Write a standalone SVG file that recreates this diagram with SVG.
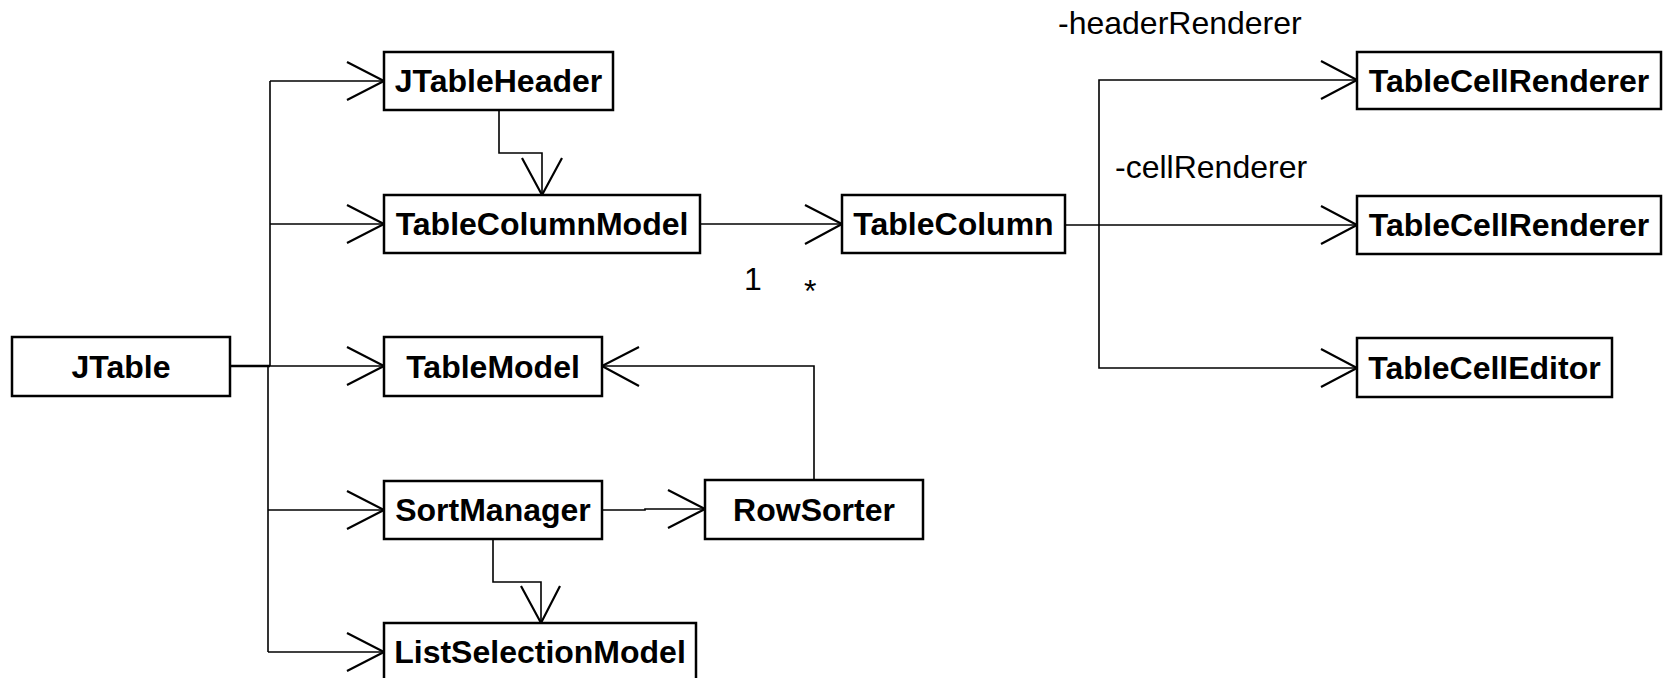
<svg xmlns="http://www.w3.org/2000/svg" width="1667" height="678" viewBox="0 0 1667 678">
<style>
.box{fill:#fff;stroke:#000;stroke-width:2.5}
.lbl{font-family:"Liberation Sans",Arial,sans-serif;font-weight:bold;font-size:32px;text-anchor:middle;fill:#000}
.txt{font-family:"Liberation Sans",Arial,sans-serif;font-size:32px;fill:#000}
.ln{fill:none;stroke:#000;stroke-width:1.6}
.ah{fill:none;stroke:#000;stroke-width:2.2}
</style>
<rect width="1667" height="678" fill="#fff"/>
<g id="connectors">
  <line x1="230" y1="366" x2="270" y2="366" stroke="#000" stroke-width="2.5"/>
  <polyline class="ln" points="270,81 270,366"/>
  <polyline class="ln" points="268,366 268,652"/>
  <line class="ln" x1="270" y1="81" x2="384" y2="81"/>
  <line class="ln" x1="270" y1="224" x2="384" y2="224"/>
  <line class="ln" x1="270" y1="366" x2="384" y2="366"/>
  <line class="ln" x1="268" y1="510" x2="384" y2="510"/>
  <line class="ln" x1="268" y1="652" x2="384" y2="652"/>
  <polyline class="ah" points="347,62 384,81 347,100"/>
  <polyline class="ah" points="347,205 384,224 347,243"/>
  <polyline class="ah" points="347,347 384,366 347,385"/>
  <polyline class="ah" points="347,491 384,510 347,529"/>
  <polyline class="ah" points="347,633 384,652 347,671"/>
  <polyline class="ln" points="499,110 499,153 542,153 542,195"/>
  <polyline class="ah" points="522,158 542,195 562,158"/>
  <line class="ln" x1="700" y1="224" x2="842" y2="224"/>
  <polyline class="ah" points="805,205 842,224 805,244"/>
  <line class="ln" x1="1065" y1="225" x2="1357" y2="225"/>
  <polyline class="ln" points="1357,80 1099,80 1099,368 1357,368"/>
  <polyline class="ah" points="1321,61 1357,80 1321,99"/>
  <polyline class="ah" points="1321,206 1357,225 1321,244"/>
  <polyline class="ah" points="1321,349 1357,368 1321,387"/>
  <polyline class="ln" points="814,480 814,366 602,366"/>
  <polyline class="ah" points="639,347 602,366 639,386"/>
  <polyline class="ln" points="602,510 645,510 645,509 705,509"/>
  <polyline class="ah" points="668,490 705,509 668,528"/>
  <polyline class="ln" points="493,539 493,582 541,582 541,623"/>
  <polyline class="ah" points="521,586 541,623 560,586"/>
  <text class="txt" x="1058" y="34">-headerRenderer</text>
  <text class="txt" x="1115" y="178">-cellRenderer</text>
  <text class="txt" x="744" y="290">1</text>
  <text class="txt" x="804" y="302">*</text>
</g>
<g id="JTable"><rect class="box" x="12" y="337" width="218" height="59"/><text class="lbl" x="121" y="378">JTable</text></g>
<g id="JTableHeader"><rect class="box" x="384" y="52" width="229" height="58"/><text class="lbl" x="498.5" y="92">JTableHeader</text></g>
<g id="TableColumnModel"><rect class="box" x="384" y="195" width="316" height="58"/><text class="lbl" x="542" y="235">TableColumnModel</text></g>
<g id="TableModel"><rect class="box" x="384" y="337" width="218" height="59"/><text class="lbl" x="493" y="378">TableModel</text></g>
<g id="SortManager"><rect class="box" x="384" y="481" width="218" height="58"/><text class="lbl" x="493" y="521">SortManager</text></g>
<g id="ListSelectionModel"><rect class="box" x="384" y="623" width="312" height="58"/><text class="lbl" x="540" y="663">ListSelectionModel</text></g>
<g id="RowSorter"><rect class="box" x="705" y="480" width="218" height="59"/><text class="lbl" x="814" y="521">RowSorter</text></g>
<g id="TableColumn"><rect class="box" x="842" y="195" width="223" height="58"/><text class="lbl" x="953.5" y="235">TableColumn</text></g>
<g id="TableCellRenderer1"><rect class="box" x="1357" y="52" width="304" height="57"/><text class="lbl" x="1509" y="92">TableCellRenderer</text></g>
<g id="TableCellRenderer2"><rect class="box" x="1357" y="196" width="304" height="58"/><text class="lbl" x="1509" y="236">TableCellRenderer</text></g>
<g id="TableCellEditor"><rect class="box" x="1357" y="338" width="255" height="59"/><text class="lbl" x="1484.5" y="379">TableCellEditor</text></g>
</svg>
